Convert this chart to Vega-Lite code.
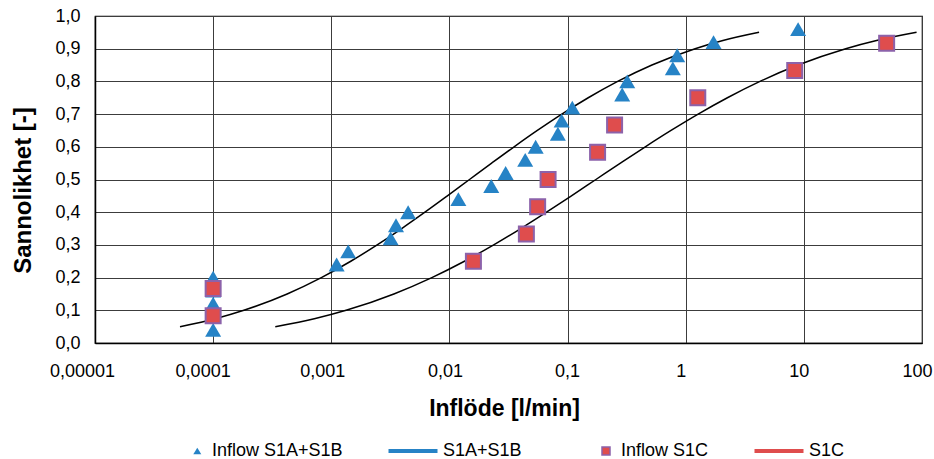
{
  "$schema": "https://vega.github.io/schema/vega-lite/v6.json",
  "width": 827,
  "height": 327,
  "autosize": {"type": "none"},
  "padding": {"left": 95, "top": 16, "right": 12, "bottom": 116},
  "background": "#ffffff",
  "config": {
    "font": "Liberation Sans",
    "view": {"stroke": "#000000", "strokeWidth": 1.2},
    "axis": {"labelColor": "#000000", "titleColor": "#000000", "domainColor": "#000000", "domainWidth": 1.5, "gridColor": "#3c3c3c", "gridWidth": 1, "gridOpacity": 1}
  },
  "datasets": {
    "triangles": [
      {"series": "Inflow S1A+S1B", "flow": 0.0001, "p": 0.04},
      {"series": "Inflow S1A+S1B", "flow": 0.0001, "p": 0.08},
      {"series": "Inflow S1A+S1B", "flow": 0.0001, "p": 0.12},
      {"series": "Inflow S1A+S1B", "flow": 0.0001, "p": 0.16},
      {"series": "Inflow S1A+S1B", "flow": 0.0001, "p": 0.20},
      {"series": "Inflow S1A+S1B", "flow": 0.00111, "p": 0.24},
      {"series": "Inflow S1A+S1B", "flow": 0.00139, "p": 0.28},
      {"series": "Inflow S1A+S1B", "flow": 0.00318, "p": 0.32},
      {"series": "Inflow S1A+S1B", "flow": 0.00353, "p": 0.36},
      {"series": "Inflow S1A+S1B", "flow": 0.00447, "p": 0.40},
      {"series": "Inflow S1A+S1B", "flow": 0.0119, "p": 0.44},
      {"series": "Inflow S1A+S1B", "flow": 0.0226, "p": 0.48},
      {"series": "Inflow S1A+S1B", "flow": 0.0299, "p": 0.52},
      {"series": "Inflow S1A+S1B", "flow": 0.0438, "p": 0.56},
      {"series": "Inflow S1A+S1B", "flow": 0.0537, "p": 0.60},
      {"series": "Inflow S1A+S1B", "flow": 0.0828, "p": 0.64},
      {"series": "Inflow S1A+S1B", "flow": 0.0891, "p": 0.68},
      {"series": "Inflow S1A+S1B", "flow": 0.1096, "p": 0.72},
      {"series": "Inflow S1A+S1B", "flow": 0.290, "p": 0.76},
      {"series": "Inflow S1A+S1B", "flow": 0.320, "p": 0.80},
      {"series": "Inflow S1A+S1B", "flow": 0.778, "p": 0.84},
      {"series": "Inflow S1A+S1B", "flow": 0.847, "p": 0.88},
      {"series": "Inflow S1A+S1B", "flow": 1.72, "p": 0.92},
      {"series": "Inflow S1A+S1B", "flow": 8.94, "p": 0.96}
    ],
    "squares": [
      {"series": "Inflow S1C", "flow": 0.0001, "p": 0.0833},
      {"series": "Inflow S1C", "flow": 0.0001, "p": 0.1667},
      {"series": "Inflow S1C", "flow": 0.01596, "p": 0.25},
      {"series": "Inflow S1C", "flow": 0.0448, "p": 0.3333},
      {"series": "Inflow S1C", "flow": 0.0558, "p": 0.4167},
      {"series": "Inflow S1C", "flow": 0.0684, "p": 0.5},
      {"series": "Inflow S1C", "flow": 0.1795, "p": 0.5833},
      {"series": "Inflow S1C", "flow": 0.250, "p": 0.6667},
      {"series": "Inflow S1C", "flow": 1.265, "p": 0.75},
      {"series": "Inflow S1C", "flow": 8.37, "p": 0.8333},
      {"series": "Inflow S1C", "flow": 50.2, "p": 0.9167}
    ],
    "curves": [
      {"series": "S1A+S1B", "flow": 0.0000524, "p": 0.05},
      {"series": "S1A+S1B", "flow": 0.000106, "p": 0.075},
      {"series": "S1A+S1B", "flow": 0.000182, "p": 0.10},
      {"series": "S1A+S1B", "flow": 0.000423, "p": 0.15},
      {"series": "S1A+S1B", "flow": 0.000824, "p": 0.20},
      {"series": "S1A+S1B", "flow": 0.001462, "p": 0.25},
      {"series": "S1A+S1B", "flow": 0.002446, "p": 0.30},
      {"series": "S1A+S1B", "flow": 0.003944, "p": 0.35},
      {"series": "S1A+S1B", "flow": 0.006203, "p": 0.40},
      {"series": "S1A+S1B", "flow": 0.009609, "p": 0.45},
      {"series": "S1A+S1B", "flow": 0.01479, "p": 0.50},
      {"series": "S1A+S1B", "flow": 0.02277, "p": 0.55},
      {"series": "S1A+S1B", "flow": 0.03527, "p": 0.60},
      {"series": "S1A+S1B", "flow": 0.05548, "p": 0.65},
      {"series": "S1A+S1B", "flow": 0.08941, "p": 0.70},
      {"series": "S1A+S1B", "flow": 0.1496, "p": 0.75},
      {"series": "S1A+S1B", "flow": 0.2655, "p": 0.80},
      {"series": "S1A+S1B", "flow": 0.5178, "p": 0.85},
      {"series": "S1A+S1B", "flow": 1.201, "p": 0.90},
      {"series": "S1A+S1B", "flow": 2.065, "p": 0.925},
      {"series": "S1A+S1B", "flow": 4.177, "p": 0.95},
      {"series": "S1C", "flow": 0.0003357, "p": 0.05},
      {"series": "S1C", "flow": 0.0007325, "p": 0.075},
      {"series": "S1C", "flow": 0.001335, "p": 0.10},
      {"series": "S1C", "flow": 0.003388, "p": 0.15},
      {"series": "S1C", "flow": 0.007102, "p": 0.20},
      {"series": "S1C", "flow": 0.01340, "p": 0.25},
      {"series": "S1C", "flow": 0.02370, "p": 0.30},
      {"series": "S1C", "flow": 0.04021, "p": 0.35},
      {"series": "S1C", "flow": 0.06638, "p": 0.40},
      {"series": "S1C", "flow": 0.1078, "p": 0.45},
      {"series": "S1C", "flow": 0.1738, "p": 0.50},
      {"series": "S1C", "flow": 0.2802, "p": 0.55},
      {"series": "S1C", "flow": 0.4549, "p": 0.60},
      {"series": "S1C", "flow": 0.7511, "p": 0.65},
      {"series": "S1C", "flow": 1.274, "p": 0.70},
      {"series": "S1C", "flow": 2.254, "p": 0.75},
      {"series": "S1C", "flow": 4.252, "p": 0.80},
      {"series": "S1C", "flow": 8.916, "p": 0.85},
      {"series": "S1C", "flow": 22.62, "p": 0.90},
      {"series": "S1C", "flow": 41.23, "p": 0.925},
      {"series": "S1C", "flow": 89.96, "p": 0.95}
    ],
    "legendItems": [
      {"series": "Inflow S1A+S1B", "flow": 0.0001, "p": 0.04},
      {"series": "S1A+S1B", "flow": 0.0001, "p": 0.04},
      {"series": "Inflow S1C", "flow": 0.0001, "p": 0.0833},
      {"series": "S1C", "flow": 0.0001, "p": 0.0833}
    ]
  },
  "encoding": {
    "x": {
      "field": "flow",
      "type": "quantitative",
      "scale": {"type": "log", "domain": [0.00001, 100], "nice": false},
      "axis": {
        "values": [0.00001, 0.0001, 0.001, 0.01, 0.1, 1, 10, 100],
        "labelExpr": "replace(format(datum.value, '.5~f'), '.', ',')",
        "grid": true,
        "ticks": false,
        "labelFontSize": 18,
        "labelPadding": 19,
        "labelFlush": false,
        "labelOverlap": false,
        "labelBound": false,
        "labelOffset": {
          "condition": [
            {"test": "datum.value < 0.00005", "value": -13},
            {"test": "datum.value < 0.0005", "value": -10.5},
            {"test": "datum.value < 0.005", "value": -9},
            {"test": "datum.value < 0.05", "value": -4.5},
            {"test": "datum.value < 0.5", "value": -0.5}
          ],
          "value": -5
        },
        "title": "Inflöde [l/min]",
        "titleFontSize": 23,
        "titleFontWeight": "bold",
        "titleX": 409,
        "titleY": 65,
        "titleAlign": "center",
        "titleBaseline": "middle"
      }
    },
    "y": {
      "field": "p",
      "type": "quantitative",
      "scale": {"domain": [0, 1], "nice": false},
      "axis": {
        "values": [0, 0.1, 0.2, 0.3, 0.4, 0.5, 0.6, 0.7, 0.8, 0.9, 1.0],
        "labelExpr": "replace(format(datum.value, '.1f'), '.', ',')",
        "grid": true,
        "ticks": false,
        "labelFontSize": 18,
        "labelPadding": 15,
        "labelOverlap": false,
        "title": "Sannolikhet [-]",
        "titleFontSize": 24,
        "titleFontWeight": "bold",
        "titleX": -72,
        "titleY": 174,
        "titleAngle": 270,
        "titleAlign": "center",
        "titleBaseline": "middle"
      }
    }
  },
  "layer": [
    {
      "data": {"name": "curves"},
      "mark": {"type": "line", "color": "#000000", "strokeWidth": 1.5, "interpolate": "monotone"},
      "encoding": {"detail": {"field": "series", "type": "nominal"}}
    },
    {
      "data": {"name": "triangles"},
      "mark": {"type": "point", "shape": "triangle-up", "filled": true, "size": 256, "color": "#2683C6", "opacity": 1, "strokeWidth": 0}
    },
    {
      "data": {"name": "squares"},
      "mark": {"type": "square", "size": 225, "fill": "#DF4D4D", "stroke": "#8C62AA", "strokeWidth": 2, "opacity": 1}
    },
    {
      "data": {"name": "legendItems"},
      "mark": {"type": "point", "filled": true, "opacity": 0, "size": 1},
      "encoding": {
        "shape": {
          "field": "series",
          "type": "nominal",
          "scale": {
            "domain": ["Inflow S1A+S1B", "S1A+S1B", "Inflow S1C", "S1C"],
            "range": ["M0.612,-0.126L0.772,0.126L0.452,0.126Z", "M-0.95,-0.05H0.95V0.05H-0.95Z", "M0.44,-0.16H0.76V0.16H0.44Z", "M-0.95,-0.05H0.95V0.05H-0.95Z"]
          },
          "legend": {"title": null, "orient": "none", "legendX": 61, "legendY": 409, "direction": "horizontal", "columns": 4, "padding": 0, "columnPadding": 43, "symbolSize": 2500, "symbolStrokeWidth": 1.5, "symbolOpacity": 1, "labelFontSize": 18, "labelColor": "#000000", "labelOffset": 4, "labelLimit": 300}
        },
        "fill": {
          "field": "series",
          "type": "nominal",
          "scale": {
            "domain": ["Inflow S1A+S1B", "S1A+S1B", "Inflow S1C", "S1C"],
            "range": ["#2683C6", "#2683C6", "#DF4D4D", "#DF4D4D"]
          },
          "legend": {"title": null, "orient": "none", "legendX": 61, "legendY": 409, "direction": "horizontal", "columns": 4, "padding": 0, "columnPadding": 43, "symbolSize": 2500, "symbolStrokeWidth": 1.5, "symbolOpacity": 1, "labelFontSize": 18, "labelColor": "#000000", "labelOffset": 4, "labelLimit": 300}
        },
        "stroke": {
          "field": "series",
          "type": "nominal",
          "scale": {
            "domain": ["Inflow S1A+S1B", "S1A+S1B", "Inflow S1C", "S1C"],
            "range": ["transparent", "#2683C6", "#8C62AA", "#DF4D4D"]
          },
          "legend": {"title": null, "orient": "none", "legendX": 61, "legendY": 409, "direction": "horizontal", "columns": 4, "padding": 0, "columnPadding": 43, "symbolSize": 2500, "symbolStrokeWidth": 1.5, "symbolOpacity": 1, "labelFontSize": 18, "labelColor": "#000000", "labelOffset": 4, "labelLimit": 300}
        }
      }
    }
  ]
}
